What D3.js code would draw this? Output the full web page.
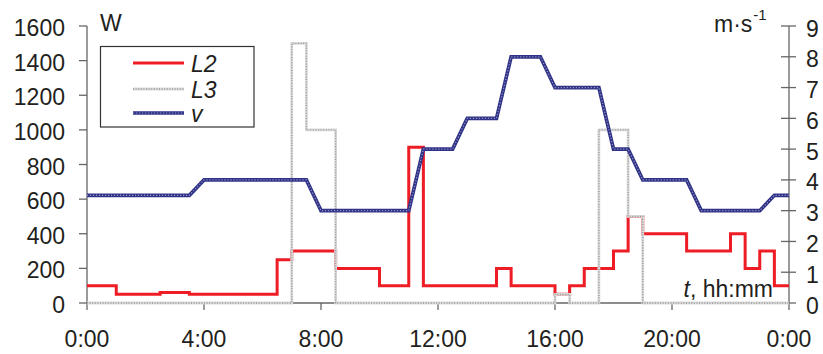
<!DOCTYPE html>
<html>
<head>
<meta charset="utf-8">
<script src="https://cdn.jsdelivr.net/npm/d3@7/dist/d3.min.js"></script>
<style>
  html, body { margin: 0; padding: 0; background: #fff; }
  svg text { font-family: "Liberation Sans", Arial, Helvetica, sans-serif; fill: #231f20; }
</style>
</head>
<body>
<svg id="chart" width="823" height="354"></svg>
<script>
// Power of the two lighting groups (W) and wind speed (m/s) over one day
const l2Hours = [0, 1, 2.5, 3.5, 6.5, 7, 8.5, 10, 11, 11.5, 14, 14.5, 16, 16.5, 17, 18, 18.5, 19, 20.5, 22, 22.5, 23, 23.5, 24];
const l2Watts = [100, 50, 60, 50, 250, 300, 200, 100, 900, 100, 200, 100, 50, 100, 200, 300, 500, 400, 300, 400, 200, 300, 100, 100];

const l3Hours = [0, 7, 7.5, 8.5, 16, 16.5, 17.5, 18.5, 19, 24];
const l3Watts = [0, 1500, 1000, 0, 50, 0, 1000, 500, 0, 0];

const vHours = [0, 3.5, 4, 7.5, 8, 11, 11.5, 12.5, 13, 14, 14.5, 15.5, 16, 17.5, 18, 18.5, 19, 20.5, 21, 23, 23.5, 24];
const vSpeed = [3.5, 3.5, 4, 4, 3, 3, 5, 5, 6, 6, 8, 8, 7, 7, 5, 5, 4, 4, 3, 3, 3.5, 3.5];

const hourTicks = [0, 4, 8, 12, 16, 20, 24];
const wattTicks = [0, 200, 400, 600, 800, 1000, 1200, 1400, 1600];
const speedTicks = [0, 1, 2, 3, 4, 5, 6, 7, 8, 9];
const seriesNames = ["L2", "L3", "v"];

const svg = d3.select("#chart");
const plotLeft = 87, plotRight = 789, plotTop = 26, plotBottom = 303;
const axisColor = "#666";
const fontSize = 23;

const x = d3.scaleLinear().domain([0, 24]).range([plotLeft, plotRight]);
const yW = d3.scaleLinear().domain([0, 1600]).range([plotBottom, plotTop]);
const yV = d3.scaleLinear().domain([0, 9]).range([plotBottom, plotTop]);

// x axis line and ticks
svg.append("line").attr("x1", plotLeft).attr("x2", plotRight).attr("y1", plotBottom).attr("y2", plotBottom)
  .attr("stroke", axisColor).attr("stroke-width", 1.3);
svg.selectAll(".xtick").data(hourTicks).enter().append("line")
  .attr("x1", d => x(d)).attr("x2", d => x(d)).attr("y1", plotBottom).attr("y2", plotBottom + 7)
  .attr("stroke", axisColor).attr("stroke-width", 1.3);
svg.selectAll(".xlab").data(hourTicks).enter().append("text")
  .attr("x", d => x(d)).attr("y", 347).attr("text-anchor", "middle")
  .attr("font-size", fontSize).text(d => (d % 24) + ":00");

// left axis (W)
svg.append("line").attr("x1", plotLeft).attr("x2", plotLeft).attr("y1", plotTop).attr("y2", plotBottom)
  .attr("stroke", axisColor).attr("stroke-width", 1.3);
svg.selectAll(".ytickL").data(wattTicks).enter().append("line")
  .attr("x1", plotLeft - 8).attr("x2", plotLeft).attr("y1", d => yW(d)).attr("y2", d => yW(d))
  .attr("stroke", axisColor).attr("stroke-width", 1.3);
svg.selectAll(".ylabL").data(wattTicks).enter().append("text")
  .attr("x", 65).attr("y", d => yW(d) + 10).attr("text-anchor", "end")
  .attr("font-size", fontSize).text(d => d);
svg.append("text").attr("x", 100).attr("y", 31).attr("font-size", fontSize).text("W");

// right axis (m/s)
svg.append("line").attr("x1", plotRight).attr("x2", plotRight).attr("y1", plotTop).attr("y2", plotBottom)
  .attr("stroke", axisColor).attr("stroke-width", 1.3);
svg.selectAll(".ytickR").data(speedTicks).enter().append("line")
  .attr("x1", plotRight - 8).attr("x2", plotRight + 7).attr("y1", d => yV(d)).attr("y2", d => yV(d))
  .attr("stroke", axisColor).attr("stroke-width", 1.3);
svg.selectAll(".ylabR").data(speedTicks).enter().append("text")
  .attr("x", 806).attr("y", d => yV(d) + 10.5).attr("text-anchor", "start")
  .attr("font-size", fontSize).text(d => d);
const unit = svg.append("text").attr("x", 714).attr("y", 32).attr("font-size", fontSize);
unit.append("tspan").text("m·s");
unit.append("tspan").attr("font-size", 15).attr("dy", -12).attr("dx", 1).text("-1");

// time axis caption
const tcap = svg.append("text").attr("x", 773).attr("y", 297).attr("text-anchor", "end").attr("font-size", fontSize);
tcap.append("tspan").attr("font-style", "italic").text("t");
tcap.append("tspan").text(", hh:mm");

// series
const stepLine = (ys) => d3.line().x(d => x(d[0])).y(d => ys(d[1])).curve(d3.curveStepAfter);
const straightLine = (ys) => d3.line().x(d => x(d[0])).y(d => ys(d[1]));

const l2Data = l2Hours.map((h, i) => [h, l2Watts[i]]);
const l3Data = l3Hours.map((h, i) => [h, l3Watts[i]]);
const vData = vHours.map((h, i) => [h, vSpeed[i]]);

const g = svg.append("g").attr("fill", "none").attr("stroke-linejoin", "miter");

g.append("path").attr("d", stepLine(yW)(l2Data))
  .attr("stroke", "#ee1c25").attr("stroke-width", 3);

// L3: light grey band with darker dots
g.append("path").attr("d", stepLine(yW)(l3Data))
  .attr("stroke", "#dadada").attr("stroke-width", 2.8);
g.append("path").attr("d", stepLine(yW)(l3Data))
  .attr("stroke", "#969696").attr("stroke-width", 1.3).attr("stroke-dasharray", "1,1.6");

// v: navy band with lighter dots
g.append("path").attr("d", straightLine(yV)(vData))
  .attr("stroke", "#2f3286").attr("stroke-width", 3.7);
g.append("path").attr("d", straightLine(yV)(vData))
  .attr("stroke", "#9597c6").attr("stroke-width", 1.2).attr("stroke-dasharray", "1.2,1.8");

// legend
const legend = svg.append("g");
legend.append("rect").attr("x", 100.5).attr("y", 46.5).attr("width", 153.5).attr("height", 80.5)
  .attr("fill", "#fff").attr("stroke", "#333").attr("stroke-width", 1.2);
const legY = [63, 89, 113];
const legStyles = [
  [{ stroke: "#ee1c25", w: 3 }],
  [{ stroke: "#dadada", w: 2.8 }, { stroke: "#969696", w: 1.3, dash: "1,1.6" }],
  [{ stroke: "#2f3286", w: 3.7 }, { stroke: "#9597c6", w: 1.2, dash: "1.2,1.8" }]
];
seriesNames.forEach((name, i) => {
  legStyles[i].forEach(s => {
    legend.append("line").attr("x1", 133).attr("x2", 184).attr("y1", legY[i]).attr("y2", legY[i])
      .attr("stroke", s.stroke).attr("stroke-width", s.w).attr("stroke-dasharray", s.dash || null);
  });
  legend.append("text").attr("x", 191).attr("y", legY[i] + 8.5).attr("font-size", fontSize)
    .attr("font-style", "italic").text(name);
});
</script>
</body>
</html>
